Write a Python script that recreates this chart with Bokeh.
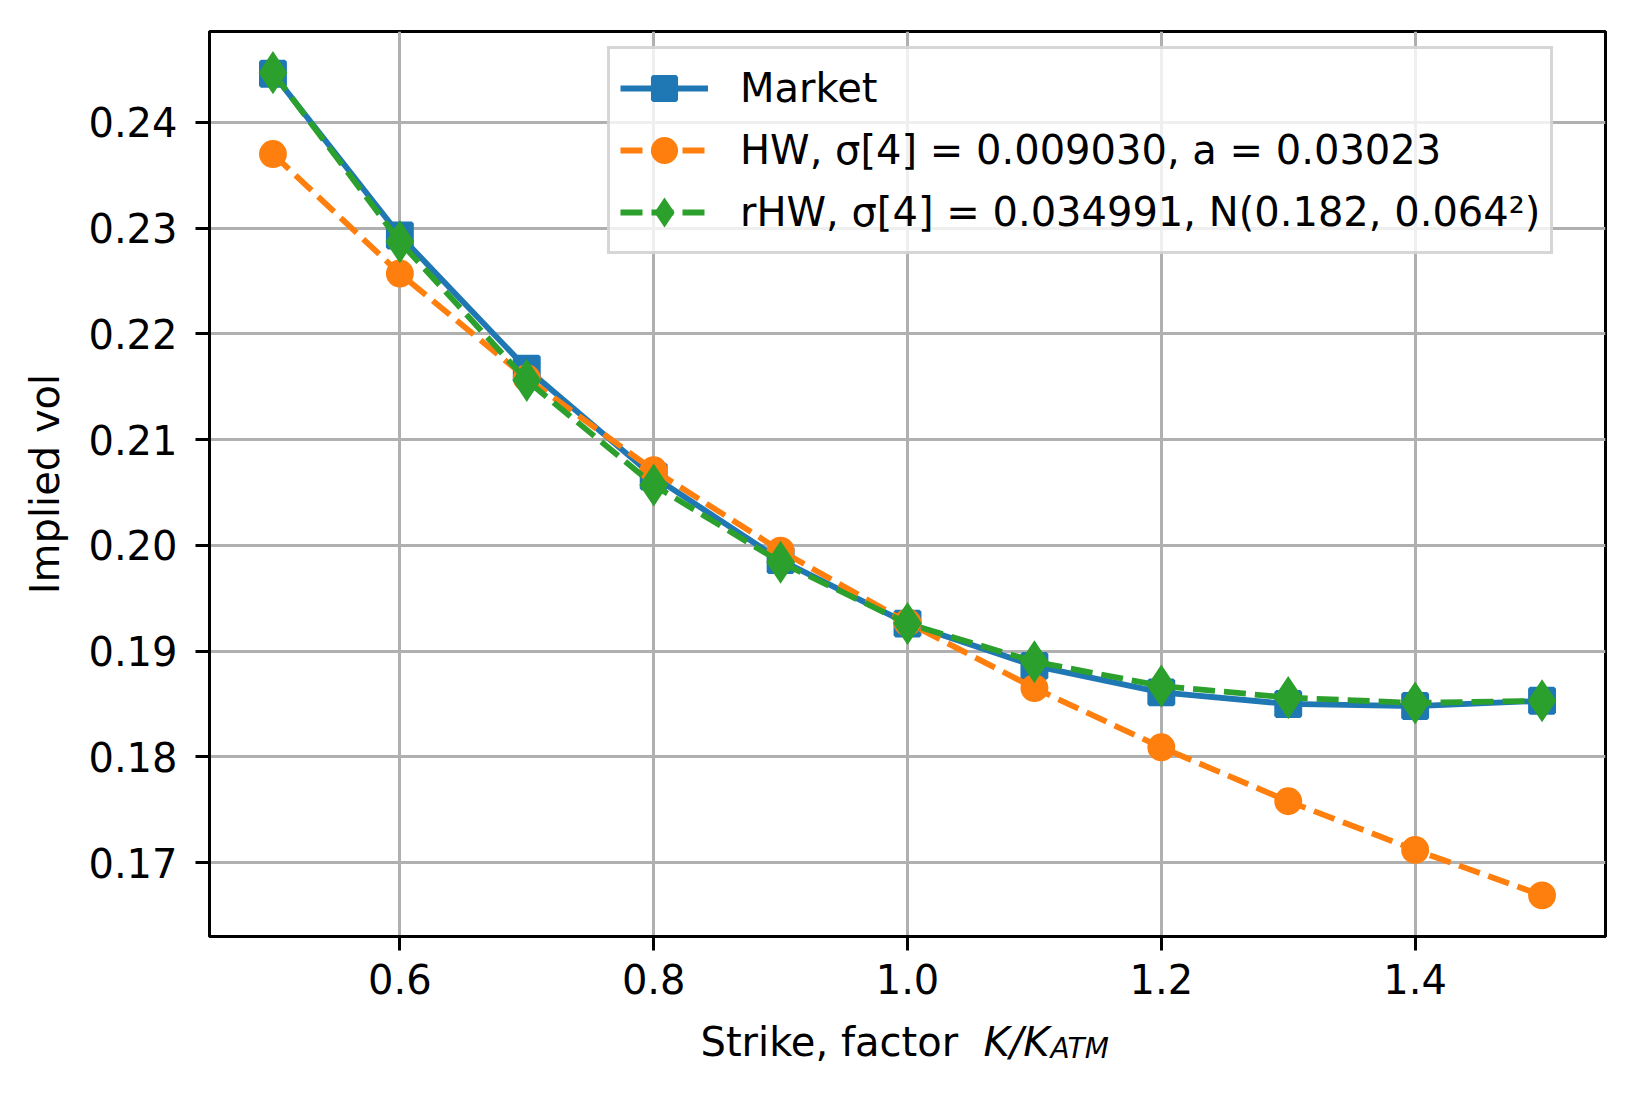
from bokeh.plotting import figure
from bokeh.layouts import column
from bokeh.models import FixedTicker, PrintfTickFormatter, Range1d, Label, Legend, LegendItem
from bokeh.embed import file_html
from bokeh.resources import INLINE

# ---- data ----
strike = [0.5, 0.6, 0.7, 0.8, 0.9, 1.0, 1.1, 1.2, 1.3, 1.4, 1.5]
market = [0.2446, 0.2293, 0.2167, 0.2065, 0.1986, 0.1926, 0.1886, 0.1861, 0.1850, 0.1848, 0.1853]
hw = [0.2370, 0.2257, 0.2158, 0.2071, 0.1995, 0.1927, 0.1865, 0.1809, 0.1758, 0.1712, 0.1669]
rhw = [0.2447, 0.2287, 0.2156, 0.2057, 0.1984, 0.1926, 0.1890, 0.1867, 0.1856, 0.1851, 0.1853]
x_ticks = [0.6, 0.8, 1.0, 1.2, 1.4]
y_ticks = [0.17, 0.18, 0.19, 0.20, 0.21, 0.22, 0.23, 0.24]
series_labels = [
    "Market",
    "HW, σ[4] = 0.009030, a = 0.03023",
    "rHW, σ[4] = 0.034991, N(0.182, 0.064²)",
]
y_label = "Implied vol"
x_label_parts = ["Strike, factor", "K/K", "ATM"]

FONT = "DejaVu Sans"
FS = "40px"
C_BLUE, C_ORANGE, C_GREEN = "#1f77b4", "#ff7f0e", "#2ca02c"

allv = market + hw + rhw
dx = max(strike) - min(strike)
dy = max(allv) - min(allv)

p = figure(
    width=1617, height=1016, output_backend="svg", toolbar_location=None,
    x_range=Range1d(min(strike) - 0.05 * dx, max(strike) + 0.05 * dx),
    y_range=Range1d(min(allv) - 0.05 * dy, max(allv) + 0.05 * dy),
    min_border_left=209, min_border_right=12, min_border_top=31, min_border_bottom=80,
)
p.background_fill_color = "white"
p.border_fill_color = "white"
p.outline_line_color = "black"
p.outline_line_width = 3
p.outline_line_alpha = 1.0

p.xaxis.ticker = FixedTicker(ticks=x_ticks)
p.yaxis.ticker = FixedTicker(ticks=y_ticks)
p.xaxis.formatter = PrintfTickFormatter(format="%.1f")
p.yaxis.formatter = PrintfTickFormatter(format="%.2f")
for ax in (p.xaxis[0], p.yaxis[0]):
    ax.major_label_text_font = FONT
    ax.major_label_text_font_size = FS
    ax.major_label_text_color = "black"
    ax.axis_line_width = 3
    ax.axis_line_color = "black"
    ax.major_tick_line_width = 3
    ax.major_tick_line_color = "black"
    ax.major_tick_in = 0
    ax.major_tick_out = 14
    ax.minor_tick_line_color = None
p.xaxis.major_label_standoff = 13
p.yaxis.major_label_standoff = 18
p.yaxis.axis_label = y_label
p.yaxis.axis_label_text_font = FONT
p.yaxis.axis_label_text_font_size = FS
p.yaxis.axis_label_text_font_style = "normal"
p.yaxis.axis_label_text_color = "black"
p.yaxis.axis_label_standoff = 17

for g in (p.xgrid[0], p.ygrid[0]):
    g.grid_line_color = "#b0b0b0"
    g.grid_line_width = 3

LW = 5.8
DASH = "22 9"
r1l = p.line(strike, market, line_color=C_BLUE, line_width=LW)
r1m = p.scatter(strike, market, marker="square", size=24, fill_color=C_BLUE,
                line_color=C_BLUE, line_width=3.9)
r2l = p.line(strike, hw, line_color=C_ORANGE, line_width=LW, line_dash=DASH)
r2m = p.scatter(strike, hw, marker="circle", size=24, fill_color=C_ORANGE,
                line_color=C_ORANGE, line_width=3.9)
r3l = p.line(strike, rhw, line_color=C_GREEN, line_width=LW, line_dash=DASH)
r3m = p.scatter(strike, rhw, marker="diamond", size=36, fill_color=C_GREEN,
                line_color=C_GREEN, line_width=3.9, line_join="miter")

legend = Legend(
    items=[
        LegendItem(label=series_labels[0], renderers=[r1l, r1m]),
        LegendItem(label=series_labels[1], renderers=[r2l, r2m]),
        LegendItem(label=series_labels[2], renderers=[r3l, r3m]),
    ],
    location=(398, 682),
    label_text_font=FONT, label_text_font_size=FS, label_text_color="black",
    glyph_width=88, glyph_height=58, label_height=50, label_standoff=32,
    spacing=4, padding=10, margin=0,
    border_line_color="#cccccc", border_line_width=3, border_line_alpha=0.8,
    background_fill_color="white", background_fill_alpha=0.8,
)
p.add_layout(legend)

# strip below the chart carrying the x-axis title (italic / subscript parts)
p2 = figure(width=1617, height=61, output_backend="svg", toolbar_location=None,
            x_axis_type=None, y_axis_type=None, min_border=0,
            x_range=Range1d(0, 1), y_range=Range1d(0, 1))
p2.outline_line_color = None
p2.background_fill_color = "white"
p2.border_fill_color = "white"
p2.grid.visible = False
p2.add_layout(Label(x=491, y=36, x_units="screen", y_units="screen",
                    text=x_label_parts[0], text_font=FONT, text_font_size=FS,
                    text_color="black", text_baseline="alphabetic", text_align="left"))
p2.add_layout(Label(x=774, y=36, x_units="screen", y_units="screen",
                    text=x_label_parts[1], text_font=FONT, text_font_size=FS,
                    text_font_style="italic",
                    text_color="black", text_baseline="alphabetic", text_align="left"))
p2.add_layout(Label(x=841, y=29, x_units="screen", y_units="screen",
                    text=x_label_parts[2], text_font=FONT, text_font_size="28px",
                    text_font_style="italic",
                    text_color="black", text_baseline="alphabetic", text_align="left"))

layout = column(p, p2, spacing=0)
open("out.html", "w").write(file_html(layout, INLINE))
